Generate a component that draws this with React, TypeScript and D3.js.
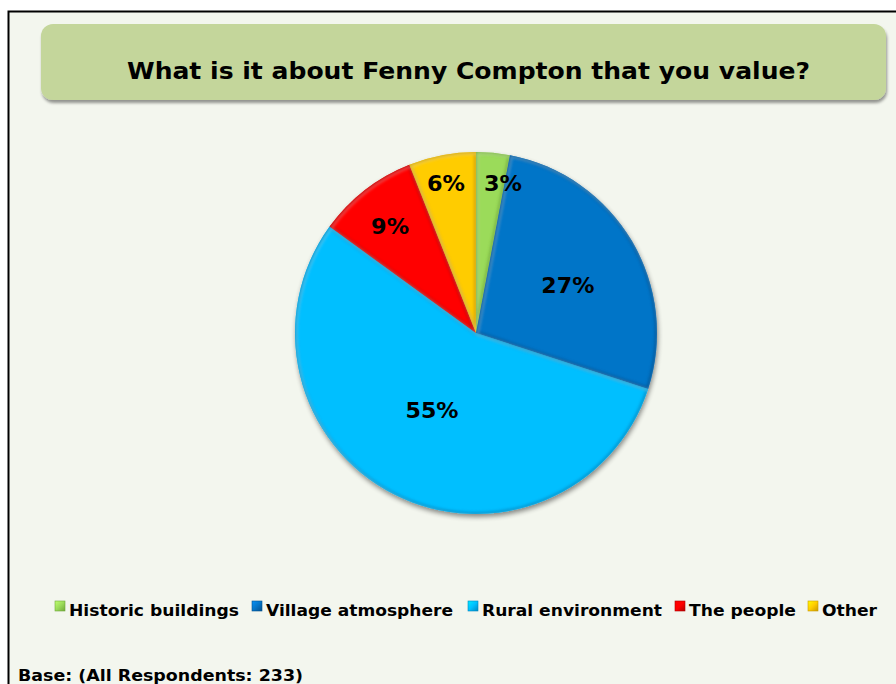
import React from "react";
import * as d3 from "d3";

const categories = ["Historic buildings", "Village atmosphere", "Rural environment", "The people", "Other"];
const values = [3, 27, 55, 9, 6];
const colors = ["#9BDB5A", "#0575C8", "#00BFFF", "#FF0000", "#FFCC00"];
const edgeColors = ["#6FA83A", "#04508E", "#0088C0", "#B00000", "#C89A00"];
const title = "What is it about Fenny Compton that you value?";
const baseNote = "Base: (All Respondents: 233)";

const W = 896;
const H = 684;
const cx = 476;
const cy = 333;
const R = 181;
const FONT = "'DejaVu Sans', Verdana, sans-serif";

// label placement: fraction of radius and angular nudge (degrees)
const labelR = [0.84, 0.57, 0.495, 0.754, 0.84];
const labelNudge = [4.8, 3.5, 2.4, -1.2, -0.6];
const legendX = [55, 252, 468, 675, 808];
const legendLen = [170, 187, 180, 107, 55];

export default function App() {
  const pie = d3.pie<number>().sort(null).value((d) => d)(values);
  const arc = d3.arc<d3.PieArcDatum<number>>().innerRadius(0).outerRadius(R);
  const total = d3.sum(values);
  return (
    <svg width={W} height={H} style={{ position: "absolute", left: 0, top: 0, background: "#fff" }} fontFamily={FONT}>
      <defs>
        <filter id="shadow" x="-20%" y="-20%" width="140%" height="140%">
          <feGaussianBlur in="SourceAlpha" stdDeviation="2.5" />
          <feOffset dx="1" dy="3" result="b" />
          <feComponentTransfer><feFuncA type="linear" slope="0.45" /></feComponentTransfer>
          <feMerge><feMergeNode /><feMergeNode in="SourceGraphic" /></feMerge>
        </filter>
        <filter id="blur"><feGaussianBlur stdDeviation="1.4" /></filter>
        <filter id="boxshadow" x="-5%" y="-20%" width="110%" height="150%">
          <feGaussianBlur in="SourceAlpha" stdDeviation="1.5" />
          <feOffset dx="1" dy="3" />
          <feComponentTransfer><feFuncA type="linear" slope="0.4" /></feComponentTransfer>
          <feMerge><feMergeNode /><feMergeNode in="SourceGraphic" /></feMerge>
        </filter>
        {pie.map((d, i) => (
          <clipPath id={`clip${i}`} key={i}>
            <path d={arc(d) || ""} transform={`translate(${cx},${cy})`} />
          </clipPath>
        ))}
        {categories.map((c, i) => (
          <linearGradient id={`lg${i}`} key={i} x1="0" y1="0" x2="1" y2="1">
            <stop offset="0" stopColor={d3.color(colors[i])!.brighter(0.6).toString()} />
            <stop offset="0.5" stopColor={colors[i]} />
            <stop offset="1" stopColor={edgeColors[i]} />
          </linearGradient>
        ))}
      </defs>
      <rect x={8.5} y={11.5} width={W} height={H} fill="#F3F6EE" stroke="#000" strokeWidth={2} />
      <rect x={41} y={24} width={845} height={76} rx={12} fill="#C4D69B" filter="url(#boxshadow)" />
      <text x={468.5} y={79} textAnchor="middle" fontSize={23.5} fontWeight="bold" fill="#000" textLength={683} lengthAdjust="spacingAndGlyphs">{title}</text>

      <g filter="url(#shadow)">
        <g transform={`translate(${cx},${cy})`}>
          {pie.map((d, i) => (
            <path key={i} d={arc(d) || ""} fill={colors[i]} />
          ))}
        </g>
      </g>
      {pie.map((d, i) => (
        <g key={i} clipPath={`url(#clip${i})`}>
          <path d={arc(d) || ""} transform={`translate(${cx},${cy})`} fill="none" stroke={edgeColors[i]} strokeWidth={4} filter="url(#blur)" opacity={0.75} />
          <path d={arc(d) || ""} transform={`translate(${cx + 1.5},${cy + 1.5})`} fill="none" stroke="#fff" strokeWidth={2} filter="url(#blur)" opacity={0.35} />
        </g>
      ))}
      {pie.map((d, i) => {
        const a = (d.startAngle + d.endAngle) / 2 + (labelNudge[i] * Math.PI) / 180;
        const r = R * labelR[i];
        const x = cx + r * Math.sin(a);
        const y = cy - r * Math.cos(a);
        const label = `${Math.round((d.value / total) * 100)}%`;
        return (
          <text key={i} x={x} y={y} dy="0.36em" textAnchor="middle" fontSize={20.5} fontWeight="bold" fill="#000"
            textLength={label.length === 2 ? 38 : 53} lengthAdjust="spacingAndGlyphs">
            {label}
          </text>
        );
      })}

      {categories.map((c, i) => (
        <g key={i}>
          <rect x={legendX[i]} y={601} width={10} height={10} fill={`url(#lg${i})`} stroke={edgeColors[i]} strokeWidth={0.6} />
          <text x={legendX[i] + 14} y={616} fontSize={16.5} fontWeight="bold" fill="#000" textLength={legendLen[i]} lengthAdjust="spacingAndGlyphs">{c}</text>
        </g>
      ))}
      <text x={18} y={681} fontSize={16.5} fontWeight="bold" fill="#000" textLength={285} lengthAdjust="spacingAndGlyphs">{baseNote}</text>
    </svg>
  );
}
